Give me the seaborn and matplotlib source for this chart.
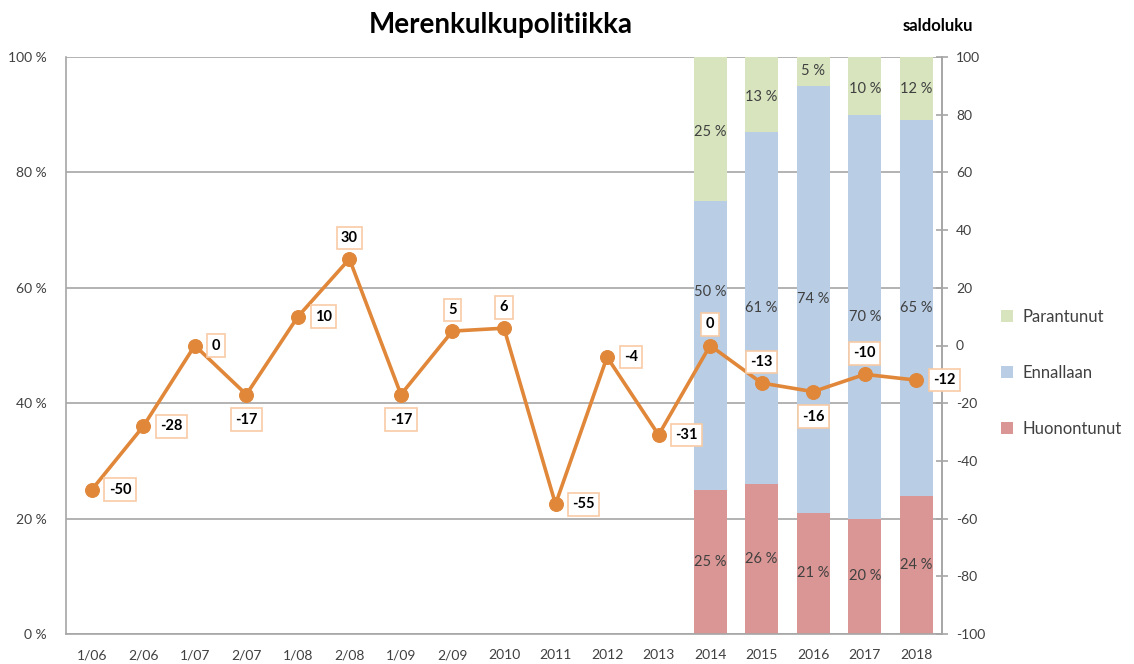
import numpy as np
import pandas as pd
import matplotlib
matplotlib.use("Agg")
import matplotlib.pyplot as plt
import seaborn as sns
from matplotlib.patches import Patch

# ---------------- data ----------------
periods = ["1/06", "2/06", "1/07", "2/07", "1/08", "2/08", "1/09", "2/09", "2010",
           "2011", "2012", "2013", "2014", "2015", "2016", "2017", "2018"]
saldo = [-50, -28, 0, -17, 10, 30, -17, 5, 6, -55, -4, -31, 0, -13, -16, -10, -12]

bar_years = ["2014", "2015", "2016", "2017", "2018"]
huononut = [25, 26, 21, 20, 24]
ennallaan = [50, 61, 74, 70, 65]
parantunut = [25, 13, 5, 10, 12]

series_names = ["Parantunut", "Ennallaan", "Huonontunut"]
colors = {"Parantunut": "#D7E4BD", "Ennallaan": "#B9CDE5", "Huonontunut": "#D99694"}
line_color = "#E0873A"

# ---------------- style ----------------
sns.set_theme(style="white")
plt.rcParams["font.family"] = ["Lato", "DejaVu Sans"]
plt.rcParams["axes.unicode_minus"] = False

fig = plt.figure(figsize=(11.34, 6.64), dpi=100)
ax = fig.add_axes([66 / 1134, 1 - 634 / 664, (942 - 66) / 1134, (634 - 57) / 664])

df = pd.DataFrame({"period": bar_years,
                   "Huonontunut": huononut,
                   "Ennallaan": ennallaan,
                   "Parantunut": parantunut})
df["c1"] = df["Huonontunut"]
df["c2"] = df["Huonontunut"] + df["Ennallaan"]
df["c3"] = df["c2"] + df["Parantunut"]

for col, name in [("c3", "Parantunut"), ("c2", "Ennallaan"), ("c1", "Huonontunut")]:
    sns.barplot(data=df, x="period", y=col, order=periods, color=colors[name],
                saturation=1, width=0.64, ax=ax, edgecolor="none", errorbar=None)

ax.set_xlim(-0.5, len(periods) - 0.5)
ax.set_ylim(0, 100)
ax.set_yticks(np.arange(0, 101, 20))
ax.set_yticklabels([f"{v} %" for v in range(0, 101, 20)])
ax.set_xlabel("")
ax.set_ylabel("")
ax.set_axisbelow(True)
ax.yaxis.grid(True, color="#A6A6A6", linewidth=1.2)
ax.xaxis.grid(False)
ax.tick_params(axis="both", length=0, labelsize=10, colors="#404040")
ax.tick_params(axis="x", pad=11)
ax.tick_params(axis="y", pad=14)
ax.spines["top"].set_visible(False)
for s in ["left", "bottom", "right"]:
    ax.spines[s].set_color("#A6A6A6")
    ax.spines[s].set_linewidth(1.2)

# bar value labels
for i, yr in enumerate(bar_years):
    xpos = periods.index(yr)
    h, e, p = huononut[i], ennallaan[i], parantunut[i]
    ax.text(xpos, h / 2, f"{h} %", ha="center", va="center", fontsize=10.5, color="#404040")
    ey = h + e / 2
    if yr == "2014":
        ey = 59.3
    ax.text(xpos, ey, f"{e} %", ha="center", va="center", fontsize=10.5, color="#404040")
    py = h + e + p / 2 - 0.5 if p >= 6 else 100 - 2.5
    ax.text(xpos, py, f"{p} %", ha="center", va="center", fontsize=10.5, color="#404040")

# line on secondary axis
ax2 = ax.twinx()
sns.lineplot(x=np.arange(len(periods)), y=saldo, ax=ax2, color=line_color,
             linewidth=2.6, marker="o", markersize=10, markeredgecolor=line_color)
ax2.set_ylim(-100, 100)
ax2.set_yticks(np.arange(-100, 101, 20))
ax2.tick_params(axis="y", direction="inout", length=8, width=1.2, color="#A6A6A6",
                labelsize=10, labelcolor="#404040", pad=6)
for s in ["top", "left", "bottom"]:
    ax2.spines[s].set_visible(False)
ax2.spines["right"].set_color("#A6A6A6")
ax2.spines["right"].set_linewidth(1.2)
ax2.grid(False)

placement = ["r", "r", "r", "b", "r", "a", "b", "a", "a", "r", "r", "r", "a", "a", "b", "a", "r"]
for i, (v, pl) in enumerate(zip(saldo, placement)):
    if pl == "r":
        xy, ha, va = (17, 0), "left", "center"
    elif pl == "a":
        xy, ha, va = (0, 21), "center", "center"
    else:
        xy, ha, va = (0, -25), "center", "center"
    ax2.annotate(f"{v}", (i, v), xytext=xy, textcoords="offset pixels",
                 ha=ha, va=va, fontsize=10.5, fontweight="bold", color="black",
                 bbox=dict(boxstyle="square,pad=0.3", fc="white", ec="#F8CBA4", lw=1.2))

# title
fig.text(501 / 1134, 1 - 25 / 664, "Merenkulkupolitiikka", ha="center", va="center",
         fontsize=20, fontweight="bold", color="black")
fig.text(938 / 1134, 1 - 26 / 664, "saldoluku", ha="center", va="center",
         fontsize=12, fontweight="bold", color="black")

# legend
handles = [Patch(facecolor=colors[n], edgecolor="none") for n in series_names]
fig.legend(handles, series_names, loc="center left",
           bbox_to_anchor=(986 / 1134, 1 - 373 / 664), frameon=False,
           fontsize=12, handlelength=0.7, handleheight=0.7, handletextpad=0.6,
           labelspacing=2.4, labelcolor="#404040")

fig.savefig("out.png", dpi=100)
